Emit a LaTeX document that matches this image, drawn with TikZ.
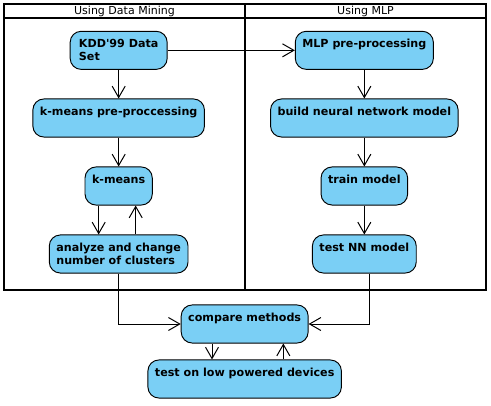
\documentclass[tikz,border=0pt]{standalone}
\usepackage{fontspec}
\newfontfamily\diafont{DejaVu Sans}
\usetikzlibrary{arrows.meta}
\definecolor{actfill}{RGB}{122,207,245}

\begin{document}
\begin{tikzpicture}[x=1cm,y=1cm]
\tikzset{
  actnode/.style={rectangle,rounded corners=0.33cm,draw=black,fill=actfill,line width=0.8pt,
    font=\diafont\bfseries\fontsize{9.5}{11.4}\selectfont,align=left,
    inner xsep=6pt,inner ysep=6.4pt,text height=7.3pt,text depth=12.4pt},
  twoline/.style={text height=18.7pt,text depth=1pt},
  laneframe/.style={draw=black,line width=1.7pt},
  lanetitle/.style={font=\diafont\fontsize{9.4}{10.8}\selectfont,inner sep=0pt},
  flow/.style={draw=black,line width=0.85pt,-{Straight Barb[length=3.4mm,width=3.9mm]}}
}
\useasboundingbox (0,0) rectangle (14.73,12.15);
% swimlanes
\draw[laneframe] (0.12,3.45) rectangle (7.35,12.03);
\draw[laneframe] (7.35,3.45) rectangle (14.58,12.03);
\draw[laneframe] (0.12,11.61) -- (14.58,11.61);
\node[lanetitle] (t_mining) at (3.735,11.81) {Using Data Mining};
\node[lanetitle] (t_mlp) at (10.965,11.81) {Using MLP};
% activities
\node[actnode,twoline,minimum width=2.91cm] (n_kdd) at (3.56,10.64) {KDD'99 Data\\Set};
\node[actnode] (n_kpre) at (3.56,8.61) {k-means pre-proccessing};
\node[actnode] (n_kmeans) at (3.56,6.57) {k-means};
\node[actnode,twoline] (n_analyze) at (3.56,4.53) {analyze and change\\number of clusters};
\node[actnode] (n_mlppre) at (10.93,10.64) {MLP pre-processing};
\node[actnode] (n_build) at (10.93,8.61) {build neural network model};
\node[actnode] (n_train) at (10.93,6.57) {train model};
\node[actnode] (n_testnn) at (10.93,4.53) {test NN model};
\node[actnode] (n_compare) at (7.34,2.43) {compare methods};
\node[actnode] (n_lowpow) at (7.34,0.78) {test on low powered devices};
% flows
\draw[flow] (n_kdd.south) -- (n_kpre.north);
\draw[flow] (n_kdd.east) -- (n_mlppre.west);
\draw[flow] (n_kpre.south) -- (n_kmeans.north);
\draw[flow] ([xshift=-0.6cm]n_kmeans.south) -- ([xshift=-0.6cm]n_analyze.north);
\draw[flow] ([xshift=0.51cm]n_analyze.north) -- ([xshift=0.51cm]n_kmeans.south);
\draw[flow] (n_mlppre.south) -- (n_build.north);
\draw[flow] (n_build.south) -- (n_train.north);
\draw[flow] (n_train.south) -- (n_testnn.north);
\draw[flow] (n_analyze.south) |- (n_compare.west);
\draw[flow] ([xshift=0.15cm]n_testnn.south) |- (n_compare.east);
\draw[flow] ([xshift=-0.98cm]n_compare.south) -- ([xshift=-0.98cm]n_lowpow.north);
\draw[flow] ([xshift=1.16cm]n_lowpow.north) -- ([xshift=1.16cm]n_compare.south);
\end{tikzpicture}
\end{document}
